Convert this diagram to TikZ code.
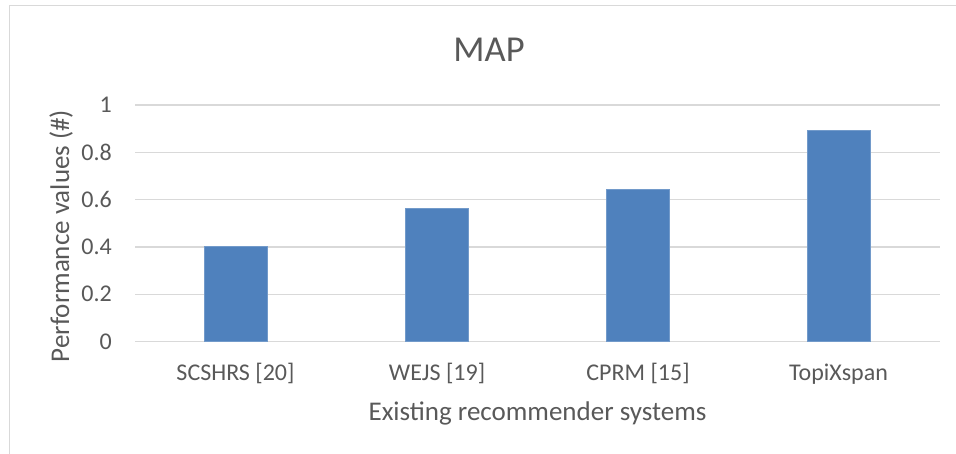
\documentclass[tikz,border=0pt]{standalone}
\usepackage{fontspec}
\setmainfont{Carlito}
\definecolor{txt}{HTML}{595959}
\definecolor{grid}{HTML}{D9D9D9}
\definecolor{bar}{HTML}{4F81BD}
\begin{document}
\begin{tikzpicture}[x=1pt,y=-1pt,
  gridline/.style={draw=grid,line width=1.3pt},
  barbox/.style={fill=bar,draw=bar!80!white,line width=0.6pt},
  ticklbl/.style={text=txt,font=\fontsize{24}{24}\selectfont,inner sep=0pt},
  axtitle/.style={text=txt,font=\fontsize{27}{27}\selectfont,inner sep=0pt},
  charttitle/.style={text=txt,font=\fontsize{36.5}{36.5}\selectfont,inner sep=0pt}]
\useasboundingbox (0,0) rectangle (956,454);
\fill[white] (0,0) rectangle (956,454);
% chart frame
\draw[grid,line width=1pt] (9,460) -- (9,6) -- (960,6);
% gridlines
\foreach \yy in {341.5,294.2,246.9,199.6,152.3,105.0}
  \draw[gridline] (135,\yy) -- (940,\yy);
% bars
\node[barbox,minimum width=63pt,minimum height=94.6pt,inner sep=0pt,anchor=south] (b1) at (235.5,341.5) {};
\node[barbox,minimum width=63pt,minimum height=132.4pt,inner sep=0pt,anchor=south] (b2) at (437,341.5) {};
\node[barbox,minimum width=63pt,minimum height=151.4pt,inner sep=0pt,anchor=south] (b3) at (638,341.5) {};
\node[barbox,minimum width=63pt,minimum height=210.5pt,inner sep=0pt,anchor=south] (b4) at (838.5,341.5) {};
% y tick labels
\node[ticklbl,anchor=east] (t0) at (112,341.5) {0};
\node[ticklbl,anchor=east] (t2) at (112,294.2) {0.2};
\node[ticklbl,anchor=east] (t4) at (112,246.9) {0.4};
\node[ticklbl,anchor=east] (t6) at (112,199.6) {0.6};
\node[ticklbl,anchor=east] (t8) at (112,152.3) {0.8};
\node[ticklbl,anchor=east] (t10) at (112,105.0) {1};
% category labels
\node[ticklbl,anchor=base] (c1) at (235.5,381) {SCSHRS [20]};
\node[ticklbl,anchor=base] (c2) at (437,381) {WEJS [19]};
\node[ticklbl,anchor=base] (c3) at (638,381) {CPRM [15]};
\node[ticklbl,anchor=base] (c4) at (838.5,381) {TopiXspan};
% axis titles
\node[axtitle,anchor=base] (xt) at (537.5,420) {Existing recommender systems};
\node[axtitle,anchor=base,rotate=90] (yt) at (69,236) {Performance values (\#)};
% chart title
\node[charttitle,anchor=base] (title) at (489,62) {MAP};
\end{tikzpicture}
\end{document}
